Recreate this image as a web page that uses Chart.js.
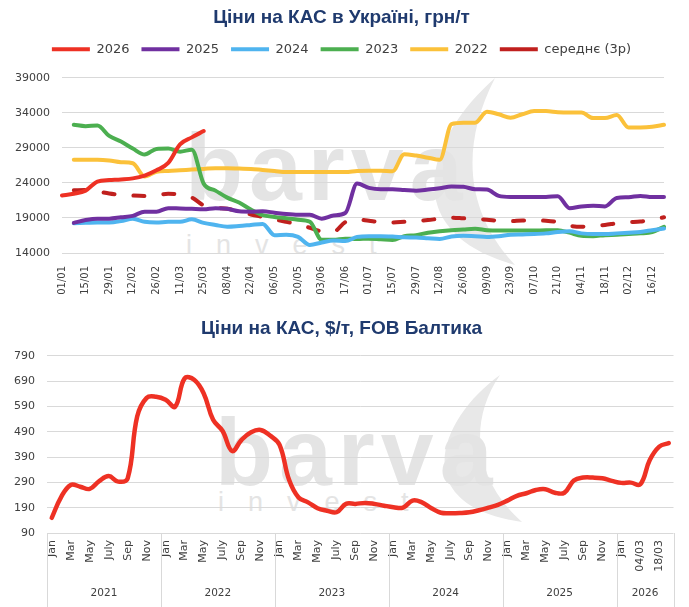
<!DOCTYPE html>
<html>
<head>
<meta charset="utf-8">
<script src="https://cdn.jsdelivr.net/npm/chart.js@4.4.1/dist/chart.umd.min.js"></script>
<style>
  html, body { margin: 0; padding: 0; background: #fff; }
  #wrap { position: relative; width: 689px; height: 607px; overflow: hidden; }
  .box { position: absolute; left: 0; width: 689px; }
  #topBox { top: 0; height: 305px; }
  #botBox { top: 305px; height: 302px; }
  .wm { position: absolute; color: #e4e4e4; font-family: "Liberation Sans", Arial, sans-serif; white-space: nowrap; line-height: 1; }
  .wm.big { font-size: 95px; font-weight: bold; letter-spacing: 6px; }
  .wm.small { font-size: 27px; letter-spacing: 24px; }
  svg.sail { position: absolute; left: 0; top: 0; }
</style>
</head>
<body>
<div id="wrap">
  <!-- watermark behind both charts -->
  <svg class="sail" width="689" height="607">
    <path d="M495,78 C430,135 392,230 515,265 C468,215 458,150 495,78 Z" fill="#e8e8e8"/>
    <path d="M500,375 C440,418 405,505 522,522 C474,480 468,422 500,375 Z" fill="#e8e8e8"/>
  </svg>
  <div class="wm big" style="left:185px; top:120px;">barva</div>
  <div class="wm small" style="left:186px; top:232px;">invest</div>
  <div class="wm big" style="left:215px; top:405px;">barva</div>
  <div class="wm small" style="left:218px; top:489px;">invest</div>

  <div class="box" id="topBox"><canvas id="topChart" width="689" height="305"></canvas></div>
  <div class="box" id="botBox"><canvas id="botChart" width="689" height="302"></canvas></div>
</div>

<script>
// ---- top chart: weekly prices in Ukraine, UAH/t ----
const weekLabels = [
  '01/01', '08/01', '15/01', '22/01', '29/01', '05/02', '12/02', '19/02', '26/02',
  '04/03', '11/03', '18/03', '25/03', '01/04', '08/04', '15/04', '22/04', '29/04',
  '06/05', '13/05', '20/05', '27/05', '03/06', '10/06', '17/06', '24/06',
  '01/07', '08/07', '15/07', '22/07', '29/07', '05/08', '12/08', '19/08', '26/08',
  '02/09', '09/09', '16/09', '23/09', '30/09', '07/10', '14/10', '21/10', '28/10',
  '04/11', '11/11', '18/11', '25/11', '02/12', '09/12', '16/12', '23/12'
];

const uah2026 = [22200, 22450, 22900, 24200, 24400, 24500, 24650, 25050, 25800, 26850, 29500, 30500, 31400];

const uah2025 = [null,
  18300, 18700, 18900, 18900, 19100, 19300, 19900, 19900, 20400, 20350,
  20300, 20250, 20400, 20300, 19950, 19900, 19950, 19750, 19550, 19450,
  19450, 18900, 19350, 19700, 23900, 23300, 23100, 23100, 23000, 22900,
  23050, 23250, 23500, 23450, 23100, 23050, 22150, 22000, 22000, 22000,
  22000, 22100, 20400, 20650, 20750, 20650, 21850, 21950, 22150, 22000, 22000];

const uah2024 = [null,
  18250, 18300, 18350, 18350, 18550, 18900, 18450, 18350, 18450, 18450,
  18800, 18300, 18000, 17750, 17850, 18000, 18150, 16550, 16600, 16300,
  15150, 15500, 15800, 15700, 16300, 16400, 16400, 16350, 16250, 16200,
  16100, 16000, 16350, 16450, 16400, 16300, 16400, 16600, 16650, 16700,
  16800, 17000, 17100, 16800, 16700, 16700, 16800, 16900, 17000, 17250, 17500];

const uah2023 = [null,
  32300, 32100, 32200, 30700, 29900, 28900, 28050, 28850, 28900, 28450,
  28750, 23900, 22900, 21900, 21200, 20200, 19400, 19150, 18950, 18750,
  18450, 15900, 15900, 16050, 16000, 16050, 15950, 15850, 16400, 16550,
  16900, 17100, 17250, 17350, 17450, 17250, 17200, 17200, 17200, 17200,
  17250, 17250, 16900, 16450, 16400, 16550, 16600, 16700, 16800, 17000, 17750];

const uah2022 = [null,
  27300, 27300, 27300, 27200, 26950, 26800, 24900, 25600, 25700, 25800,
  25900, 26000, 26100, 26100, 26050, 26000, 25850, 25700, 25550, 25550,
  25550, 25550, 25550, 25550, 25700, 25750, 25750, 25650, 28100, 27900,
  27600, 27300, 32400, 32600, 32600, 34150, 33800, 33300, 33800, 34250,
  34250, 34100, 34050, 34050, 33250, 33250, 33700, 31900, 31900, 32000, 32300];

const uahAvg3y = [null,
  22950, 23000, 22800, 22500, 22300, 22200, 22150, 22250, 22450, 22350,
  21900, 20800, 20450, 20300, 19950, 19500, 19150, 18800, 18450, 18100,
  17600, 17100, 17050, 18400, 18800, 18600, 18400, 18350, 18450, 18550,
  18700, 18900, 19050, 18950, 18850, 18750, 18600, 18550, 18650, 18650,
  18600, 18400, 17900, 17750, 17900, 18000, 18250, 18400, 18500, 18750, 19100];

// ---- bottom chart: monthly FOB Baltic, $/t ----
const monthNames = ['Jan', 'Feb', 'Mar', 'Apr', 'May', 'Jun', 'July', 'Aug', 'Sep', 'Oct', 'Nov', 'Dec'];
const years = ['2021', '2022', '2023', '2024', '2025', '2026'];
const labels2026 = ['Jan', 'Feb', '04/03', '11/03', '18/03', '25/03'];

const fobPrices = [
  150, 233, 280, 273, 264, 295, 315, 293, 306, 550, 624, 628,   // 2021
  616, 589, 701, 695, 642, 537, 493, 414, 458, 488, 497, 475,   // 2022
  438, 300, 230, 211, 188, 178, 172, 205, 205, 209, 205, 198,   // 2023
  192, 190, 218, 211, 188, 170, 168, 169, 172, 180, 190, 201,   // 2024
  218, 237, 247, 260, 263, 249, 249, 297, 309, 309, 306, 296,   // 2025
  288, 289, 282, 378, 431, 445                                  // 2026
];

// month labels and group sizes for the two-level axis
const monthLabels = [];
const yearCounts = [];
years.forEach(y => {
  const names = y === '2026' ? labels2026 : monthNames;
  names.forEach(n => monthLabels.push(n));
  yearCounts.push(names.length);
});

const FONT = "'DejaVu Sans', sans-serif";
const TITLE_FONT = "'Liberation Sans', Arial, sans-serif";
const tickColor = '#404040';
const gridColor = '#d9d9d9';
const titleColor = '#1f3a6e';

// every second category label, like the original axis
function everyOther(value, index) {
  return index % 2 === 0 ? this.getLabelForValue(value) : '';
}

// a bit more room under the legend
const legendGap = {
  id: 'legendGap',
  beforeInit(chart) {
    const fit = chart.legend.fit;
    chart.legend.fit = function () {
      fit.call(this);
      this.height += 12;
    };
  }
};

function lineSet(label, data, color, extra) {
  return Object.assign({
    label: label,
    data: data,
    borderColor: color,
    backgroundColor: color,
    borderWidth: 4,
    borderCapStyle: 'round',
    borderJoinStyle: 'round',
    pointRadius: 0,
    fill: false,
    cubicInterpolationMode: 'monotone'
  }, extra || {});
}

new Chart(document.getElementById('topChart'), {
  type: 'line',
  data: {
    labels: weekLabels,
    datasets: [
      lineSet('2026', uah2026, '#ee3124'),
      lineSet('2025', uah2025, '#7030a0'),
      lineSet('2024', uah2024, '#4fb4ef'),
      lineSet('2023', uah2023, '#4caf50'),
      lineSet('2022', uah2022, '#fbc13a'),
      lineSet('середнє (3р)', uahAvg3y, '#c0201e', { borderDash: [11, 19] })
    ]
  },
  options: {
    responsive: false,
    animation: false,
    layout: { padding: { left: 0, right: 6, top: 0, bottom: 7 } },
    plugins: {
      title: {
        display: true,
        text: 'Ціни на КАС в Україні, грн/т',
        color: titleColor,
        font: { family: TITLE_FONT, size: 19, weight: 'bold' },
        padding: { top: 6, bottom: 2 }
      },
      legend: {
        labels: {
          usePointStyle: true,
          pointStyle: 'line',
          pointStyleWidth: 38,
          color: tickColor,
          font: { family: FONT, size: 13 },
          padding: 12
        }
      },
      tooltip: { enabled: false }
    },
    scales: {
      x: {
        grid: { display: false, drawTicks: false },
        border: { display: false },
        ticks: {
          autoSkip: false, minRotation: 90, maxRotation: 90, padding: 13,
          color: tickColor, font: { family: FONT, size: 10 },
          callback: everyOther
        },
        afterFit: s => { s.height = 45; }
      },
      y: {
        min: 14000,
        max: 39000,
        grid: { color: gridColor, drawTicks: false },
        border: { display: false },
        ticks: {
          stepSize: 5000, padding: 12,
          color: tickColor, font: { family: FONT, size: 11 },
          callback: v => String(v)
        },
        afterFit: s => { s.width = 62; }
      }
    }
  },
  plugins: [legendGap]
});

// year group labels and separators under the month ticks
const yearGroups = {
  id: 'yearGroups',
  afterDraw(chart) {
    const x = chart.scales.x;
    const ctx = chart.ctx;
    const half = (x.getPixelForValue(1) - x.getPixelForValue(0)) / 2;
    const top = chart.chartArea.bottom;
    ctx.save();
    ctx.strokeStyle = gridColor;
    ctx.lineWidth = 1;
    ctx.fillStyle = tickColor;
    ctx.font = '10.5px ' + FONT;
    ctx.textAlign = 'center';
    ctx.textBaseline = 'middle';
    let start = 0;
    years.forEach((yr, k) => {
      const end = start + yearCounts[k] - 1;
      const left = x.getPixelForValue(start) - half;
      const right = x.getPixelForValue(end) + half;
      [left, right].forEach(px => {
        ctx.beginPath();
        ctx.moveTo(Math.round(px) + 0.5, top);
        ctx.lineTo(Math.round(px) + 0.5, chart.height);
        ctx.stroke();
      });
      ctx.fillText(yr, (left + right) / 2, top + 60);
      start = end + 1;
    });
    ctx.restore();
  }
};

new Chart(document.getElementById('botChart'), {
  type: 'line',
  data: {
    labels: monthLabels,
    datasets: [{
      label: 'FOB',
      data: fobPrices,
      borderColor: '#ee3124',
      borderWidth: 4.5,
      borderCapStyle: 'round',
      borderJoinStyle: 'round',
      pointRadius: 0,
      fill: false,
      tension: 0.4
    }]
  },
  options: {
    responsive: false,
    animation: false,
    layout: { padding: { left: 0, right: 6, top: 0, bottom: 0 } },
    plugins: {
      title: {
        display: true,
        text: 'Ціни на КАС, $/т, FOB Балтика',
        color: titleColor,
        font: { family: TITLE_FONT, size: 19, weight: 'bold' },
        padding: { top: 12, bottom: 16 }
      },
      legend: { display: false },
      tooltip: { enabled: false }
    },
    scales: {
      x: {
        offset: true,
        grid: { display: false, drawTicks: false },
        border: { display: false },
        ticks: {
          autoSkip: false, minRotation: 90, maxRotation: 90, padding: 7,
          color: tickColor, font: { family: FONT, size: 11 },
          callback: everyOther
        },
        afterFit: s => { s.height = 74; }
      },
      y: {
        min: 90,
        max: 790,
        grid: { color: gridColor, drawTicks: false },
        border: { display: false },
        ticks: {
          stepSize: 100, padding: 12,
          color: tickColor, font: { family: FONT, size: 11 }
        },
        afterFit: s => { s.width = 47; }
      }
    }
  },
  plugins: [yearGroups]
});
</script>
</body>
</html>
